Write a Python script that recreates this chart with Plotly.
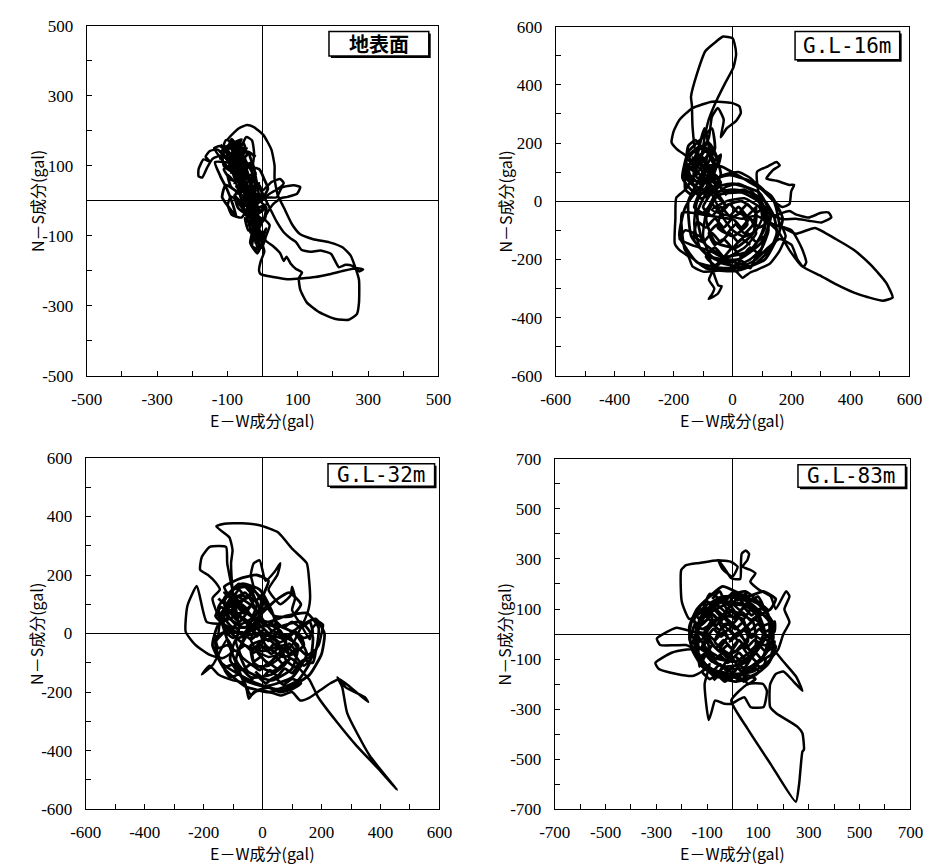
import plotly.graph_objects as go

W, H = 935, 868

# ---------------- data (gal): (E-W, N-S) orbit points ----------------
panel_titles = ["地表面", "G.L-16m", "G.L-32m", "G.L-83m"]
x_axis_title = "E－W成分(gal)"
y_axis_title = "N－S成分(gal)"

surface_ranges = [-500, 500]
gl16_ranges = [-600, 600]
gl32_ranges = [-600, 600]
gl83_ranges = [-700, 700]

surface_labels = [-500, -300, -100, 100, 300, 500]
gl16_labels = [-600, -400, -200, 0, 200, 400, 600]
gl32_labels = [-600, -400, -200, 0, 200, 400, 600]
gl83_labels = [-700, -500, -300, -100, 100, 300, 500, 700]

surface_outline = [
    (-40, 30), (-55, 75), (-75, 125), (-95, 160), (-88, 176), (-70, 152), (-55, 105), (-38, 55),
    (-22, 12), (-30, -28), (-48, 8), (-72, 88), (-100, 138), (-122, 156), (-138, 150), (-118, 120),
    (-88, 82), (-62, 42), (-46, 2), (-32, -48), (-20, -92), (-10, -122), (-26, -110), (-40, -62),
    (-56, -12), (-72, 40), (-96, 108), (-128, 146), (-150, 142), (-162, 126), (-150, 112),
    (-168, 118), (-182, 90), (-182, 70), (-172, 66), (-158, 94), (-142, 120), (-112, 130),
    (-90, 110), (-70, 70), (-50, 22), (-30, -10), (-16, -42), (-6, -72), (-20, -40), (-42, 20),
    (-62, 80), (-82, 122), (-110, 160), (-104, 173), (-80, 166), (-60, 130), (-46, 92), (-30, 42),
    (-10, 2), (10, -20), (0, -60), (-20, -30), (-46, 30), (-70, 100), (-62, 150), (-46, 182),
    (-30, 172), (-24, 132), (-30, 82), (-20, 42), (0, 30), (25, 53), (50, 62), (60, 50), (45, 35),
    (20, 20), (0, 5), (-30, -20), (-60, -10), (-90, 12), (-99, -12), (-88, -40), (-60, -48),
    (-45, -25), (-40, 0), (-20, 20), (10, 10), (40, 10), (55, 38), (89, 44), (107, 39), (98, 20),
    (71, 11), (52, 7), (30, -10), (10, -40), (-10, -80), (-20, -110), (-12, -140), (0, -130),
    (10, -100), (20, -70), (0, -50), (-15, -82), (-5, -112), (5, -145), (-5, -172), (-10, -200),
    (-5, -210), (30, -218), (70, -224), (110, -222), (150, -218), (190, -210), (230, -200),
    (270, -193), (286, -196), (275, -202), (255, -186), (236, -183), (217, -190), (205, -170),
    (195, -152), (165, -142), (135, -146), (110, -140), (95, -118), (80, -108), (60, -90),
    (40, -60), (20, -20), (-10, 40), (-40, 100), (-70, 150), (-99, 174), (-67, 207), (-45, 216),
    (-26, 211), (2, 188), (25, 146), (34, 100), (34, 62), (43, 16), (61, -21), (84, -68),
    (107, -96), (144, -110), (190, -119), (227, -133), (250, -156), (263, -189), (274, -226),
    (274, -291), (268, -324), (245, -340), (208, -338), (162, -319), (126, -291), (107, -254),
    (103, -221), (112, -205), (95, -195), (80, -180), (68, -160), (60, -172), (50, -150),
    (30, -130), (10, -115), (-5, -90), (-25, -50), (-45, 10), (-65, 60), (-85, 100), (-105, 140),
]
surface_core = [
    (-120, 160), (-100, 145), (-85, 170), (-70, 150), (-55, 165), (-45, 130), (-60, 120),
    (-75, 140), (-95, 115), (-115, 135), (-110, 100), (-90, 85), (-75, 110), (-55, 90),
    (-35, 105), (-20, 75), (-40, 60), (-60, 80), (-80, 55), (-100, 75), (-90, 40), (-70, 25),
    (-55, 50), (-35, 30), (-10, 45), (0, 10), (-25, -5), (-45, 20), (-65, 0), (-80, 15),
    (-70, -20), (-50, -35), (-30, -15), (-10, -35), (10, -20), (5, -55), (-15, -45), (-35, -65),
    (-50, -50), (-40, -85), (-20, -75), (0, -95), (10, -80), (-5, -115), (-25, -105), (-30, -130),
    (-10, -140), (-15, -100), (-35, -60), (-20, -20), (-45, -10), (-30, 40), (-60, 30), (-45, 80),
    (-75, 70), (-60, 120), (-90, 110), (-75, 155), (-105, 150), (-120, 140), (-70, 170),
    (-100, 110), (-50, 140), (-90, 80), (-30, 110), (-80, 50), (-20, 80), (-70, 20), (-10, 50),
    (-60, -10), (0, 20), (-50, -40), (10, -10), (-40, -70), (5, -50), (-30, -100), (0, -90),
    (-20, -120), (-10, -100), (-45, -50), (-5, -30), (-60, 0), (-15, 10), (-75, 40), (-25, 60),
    (-85, 80), (-35, 100), (-100, 120), (-45, 150), (-110, 150), (-60, 175), (-85, 130),
    (-40, 70), (-70, 60), (-30, 20), (-55, -20), (-20, -60), (-35, -90), (-10, -60), (-40, -20),
    (-20, 30), (-65, 30), (-45, 90), (-95, 100), (-70, 140), (-120, 120), (-90, 160), (-50, 120),
    (-75, 75), (-30, 55), (-50, 5), (-10, -20), (-30, -60), (0, -110), (-15, -150), (-35, -120),
    (-25, -70), (-50, -30), (-80, 10), (-60, 50), (-90, 60), (-110, 90), (-80, 100), (-60, 70),
    (-40, 40), (-15, -15), (-105, 45), (-115, 10), (-95, -20), (-75, -45), (-85, -10),
    (-100, 30), (-120, 70), (-135, 110), (-10, 90), (5, 60), (15, 35), (-5, 0), (-25, 95),
    (-40, 140), (-20, 125),
]

gl16_outline = [
    (-20, 20), (-60, 70), (-100, 120), (-125, 165), (-136, 260), (-138, 330), (-141, 359),
    (-120, 440), (-92, 516), (-60, 545), (-32, 566), (0, 560), (7, 540), (12, 504), (3, 460),
    (-26, 404), (-59, 336), (-81, 280), (-98, 200), (-108, 120), (-88, 60), (-58, 0),
    (-30, -60), (0, -100), (40, -122), (80, -100), (100, -58), (90, 0), (60, 40), (20, 60),
    (-20, 50), (-60, 20), (-90, -40), (-100, -120), (-80, -180), (-40, -212), (10, -222),
    (60, -200), (100, -160), (122, -100), (110, -40), (80, 10), (40, 40), (-10, 30),
    (-60, 60), (-110, 110), (-150, 150), (-190, 180), (-207, 202), (-200, 240), (-180, 280),
    (-136, 320), (-70, 342), (-4, 338), (23, 326), (28, 303), (12, 276), (-20, 250),
    (-40, 220), (-30, 280), (-50, 320), (-70, 290), (-80, 220), (-110, 150), (-130, 90),
    (-160, 40), (-191, 12), (-194, -60), (-196, -146), (-180, -168), (-150, -190),
    (-136, -224), (-100, -242), (-60, -240), (-20, -232), (7, -236), (34, -263), (60, -245),
    (83, -236), (127, -214), (160, -170), (180, -120), (171, -92), (215, -112), (280, -92),
    (350, -130), (412, -168), (470, -220), (521, -280), (543, -331), (510, -342), (460, -330),
    (412, -314), (350, -285), (302, -258), (236, -224), (193, -168), (160, -112), (130, -80),
    (100, -60), (140, -50), (193, -34), (214, -45), (258, -56), (300, -40), (326, -39),
    (335, -56), (302, -73), (258, -67), (214, -60), (170, -62), (120, -40), (90, 20),
    (83, 101), (120, 120), (149, 135), (160, 123), (137, 107), (115, 78), (150, 70),
    (193, 56), (209, 56), (199, 34), (193, -10), (170, -20), (140, 0), (100, 40), (60, 80),
    (20, 100), (-30, 90), (-80, 60), (-120, 0), (-130, -80), (-110, -160), (-60, -200),
    (0, -210), (50, -180), (90, -130), (110, -70), (90, -20), (40, 10), (-20, 0), (-70, -30),
    (30, -60), (80, -50), (140, -80), (200, -100), (236, -164), (250, -210), (240, -226),
    (220, -200), (200, -150), (160, -130), (120, -160), (80, -200), (40, -220), (-20, -200),
    (-80, -170), (-140, -150), (-180, -130), (-160, -100), (-100, -130), (-60, -260),
    (-48, -290), (-37, -292), (-50, -318), (-81, -336), (-70, -320), (-62, -300), (-80, -270),
    (-60, -230), (-10, -190), (40, -160), (80, -110), (60, -60), (20, -40),
]
gl16_core = [
    (-160, 160), (-140, 130), (-120, 165), (-100, 135), (-80, 165), (-60, 140), (-40, 160),
    (-50, 120), (-75, 105), (-95, 125), (-120, 100), (-145, 120), (-165, 95), (-150, 70),
    (-125, 55), (-105, 80), (-85, 60), (-60, 85), (-40, 65), (-55, 40), (-80, 25), (-110, 45),
    (-135, 20), (-160, 40), (-150, 190), (-125, 210), (-105, 180), (-85, 205), (-70, 180),
    (-90, 150), (-115, 130), (-135, 150), (-120, 80), (-95, 95), (-70, 120), (-130, -20),
    (-100, -40), (-70, -10), (-40, -40), (-10, -10), (20, -40), (50, -10), (80, -40), (110, -20),
    (120, -70), (90, -90), (60, -60), (30, -90), (0, -60), (-30, -90), (-60, -60), (-90, -90),
    (-120, -70), (-130, -120), (-100, -140), (-70, -110), (-40, -140), (-10, -110), (20, -140),
    (50, -110), (80, -140), (110, -120), (90, -180), (60, -160), (30, -190), (0, -160),
    (-30, -190), (-60, -160), (-90, -190), (-60, -220), (-30, -200), (0, -225), (30, -205),
    (60, -230), (80, -190), (130, -160), (150, -110), (140, -50), (110, 0), (60, 30), (0, 40),
    (-60, 30), (-110, 10), (-150, 120), (-90, 170), (-60, 110), (-110, 60), (-150, 100),
    (-100, 150), (-70, 80), (-130, 70), (-120, 170), (-80, 200), (-50, 140), (-90, 40),
    (-140, 60), (-160, 130), (-110, 190), (-60, 160), (-40, 90), (-80, 30), (-130, 30),
    (-170, 80), (-150, 170), (-100, 220), (-70, 250), (-60, 180), (-100, 100), (-150, 0),
    (-140, -120), (-80, -190), (20, -200), (100, -140), (130, -50), (90, 30), (0, 60),
    (-80, 40), (-120, -40), (-100, -140), (-30, -190), (60, -170), (110, -90), (100, -10),
    (30, 30), (-50, 20), (-90, -60), (-60, -140), (10, -160), (70, -110), (80, -40), (30, 0),
    (-30, -20), (-50, -90), (0, -120), (50, -80), (30, -40), (-10, -60), (-170, -40),
    (-160, -170), (-90, -230), (10, -240), (110, -200), (160, -100), (140, 0), (80, 60),
    (-10, 90), (-100, 60), (-160, -20), (-180, -120), (-120, -210), (-30, -230), (70, -220),
    (140, -150), (170, -60), (130, 20), (50, 70), (-40, 120), (-120, 130), (-95, 250),
    (-80, 180), (-100, 90), (-60, 40), (-20, -20), (-150, 150), (-130, 175), (-110, 150),
    (-90, 180), (-70, 155), (-60, 125), (-85, 110), (-110, 130), (-135, 105), (-155, 130),
    (-140, 80), (-115, 95), (-90, 70), (-65, 95), (-45, 75), (-100, -20), (-70, -50),
    (-40, -20), (-10, -50), (20, -20), (50, -50), (80, -20), (70, -80), (40, -110), (10, -80),
    (-20, -110), (-50, -80), (-80, -110), (-60, -150), (-30, -130), (0, -160), (30, -130),
    (60, -150),
]

gl32_outline = [
    (-20, 0), (-60, 40), (-100, 80), (-110, 140), (-80, 170), (-40, 150), (-20, 100),
    (-40, 50), (-80, 30), (-120, 60), (-130, 110), (-100, 150), (-60, 160), (-30, 120),
    (-50, 80), (-90, 70), (-107, 240), (-102, 285), (-113, 329), (-157, 366), (-130, 375),
    (-69, 377), (-10, 370), (52, 346), (100, 290), (150, 240), (158, 180), (161, 117),
    (156, 84), (140, 40), (120, 0), (100, -40), (60, -70), (20, -80), (-20, -60), (-40, -20),
    (-20, 20), (20, 30), (60, 10), (80, -30), (60, -80), (20, -110), (-30, -110), (-70, -80),
    (-90, -30), (-80, 20), (-120, 240), (-124, 296), (-179, 296), (-206, 262), (-212, 218),
    (-185, 200), (-160, 175), (-145, 150), (-170, 120), (-150, 60), (-120, 20), (-80, 0),
    (-130, 30), (-190, 40), (-223, 162), (-255, 95), (-261, 6), (-228, -39), (-179, -73),
    (-135, -84), (-100, -60), (-120, -20), (-168, -106), (-206, -140), (-180, -110),
    (-150, -140), (-100, -160), (-60, -170), (-47, -223), (-30, -200), (-3, -195),
    (40, -205), (62, -212), (100, -200), (128, -229), (161, -218), (194, -195), (230, -170),
    (260, -156), (300, -185), (358, -234), (347, -218), (282, -184), (254, -150),
    (270, -183), (287, -272), (363, -417), (456, -534), (400, -470), (319, -384),
    (250, -300), (188, -217), (160, -160), (120, -110), (160, -80), (190, -40), (200, 0),
    (205, 30), (190, 40), (170, 20), (160, -20), (130, 30), (100, 80), (110, 120), (100, 160),
    (95, 130), (60, 100), (20, 150), (50, 200), (60, 240), (40, 210), (10, 180), (-10, 250),
    (-30, 240), (-40, 200), (-30, 150), (-60, 120), (-100, 100), (-140, 60), (-150, 0),
]
gl32_core = [
    (-150, 120), (-125, 100), (-100, 130), (-75, 105), (-50, 130), (-25, 110), (0, 135),
    (10, 90), (-15, 75), (-40, 95), (-65, 70), (-90, 95), (-115, 70), (-140, 90), (-160, 60),
    (-140, 40), (-115, 55), (-90, 30), (-65, 50), (-40, 25), (-15, 45), (15, 25), (40, 45),
    (70, 20), (100, 40), (130, 20), (160, 40), (170, 0), (140, -15), (110, 5), (80, -20),
    (50, 0), (20, -25), (-10, 0), (-40, -20), (-70, 5), (-100, -15), (-130, 5), (-160, -15),
    (-150, -50), (-120, -40), (-90, -60), (-60, -40), (-30, -65), (0, -45), (30, -70), (60, -45),
    (90, -70), (120, -50), (150, -75), (180, -55), (170, -100), (140, -90), (110, -115),
    (80, -95), (50, -120), (20, -100), (-10, -125), (-40, -105), (-70, -125), (-100, -105),
    (-130, -120), (-110, -150), (-80, -140), (-50, -165), (-20, -145), (10, -170), (40, -150),
    (70, -175), (100, -155), (130, -170), (100, -190), (60, -200), (20, -185), (-20, -195),
    (-40, -210), (-140, 60), (-80, 130), (-20, 110), (-10, 40), (-70, 0), (-130, 20), (-150, 90),
    (-100, 150), (-40, 160), (0, 100), (-30, 30), (-100, 20), (-140, 70), (-90, 110), (-50, 80),
    (-80, 40), (-120, 90), (-60, 140), (-20, 70), (-60, 20), (-110, 50), (-130, 120), (-70, 170),
    (-10, 150), (30, 80), (60, 0), (120, -40), (100, -120), (30, -160), (-50, -130), (-80, -60),
    (-40, 10), (40, 30), (110, 0), (150, -70), (100, -150), (10, -180), (-60, -160), (-110, -90),
    (-90, -20), (-20, 0), (70, -20), (90, -90), (30, -130), (-30, -100), (-40, -40), (20, -20),
    (60, -60), (20, -100), (-20, -60), (0, -20), (50, 20), (130, 40), (170, -10), (160, -100),
    (120, -160), (50, -190), (-20, -170), (-80, -140), (-140, -100), (-160, -30), (-120, 10),
    (-60, -40), (0, -60), (80, -40), (140, -110), (180, -60), (190, 20), (150, 70), (80, 60),
    (20, 40), (-40, 60), (-100, 110), (-130, 160), (-70, 190), (-20, 200), (20, 180), (0, 120),
    (40, 60), (100, 60), (130, 100), (90, 140), (40, 110), (-10, 60), (-60, -10), (-90, -90),
    (-40, -150), (30, -140), (80, -100), (50, -30), (-10, 10), (-80, 60), (-150, 30),
    (-170, -40), (-130, -120), (-60, -180), (20, -200), (100, -180), (160, -140), (200, -70),
    (210, 0), (180, 50), (120, 20), (60, -30), (0, 20), (-60, 80), (-110, 130), (-70, 90),
    (-30, 50), (10, -40), (70, -80), (120, -60), (90, -10), (30, 10), (-30, 90), (-90, 130),
    (-130, 140), (-105, 120), (-80, 150), (-55, 120), (-30, 145), (-5, 120), (-10, 80),
    (-35, 60), (-60, 85), (-85, 55), (-110, 80), (-135, 50), (-120, 0), (-95, 25), (-70, -5),
    (-45, 20), (-20, -10), (5, 15), (30, -15), (55, 10), (80, -15), (105, 10), (130, -10),
    (140, -40), (115, -60), (90, -35), (65, -60), (40, -35), (15, -60), (-10, -35), (-35, -60),
    (-30, -95), (-5, -80), (20, -105), (45, -80), (70, -105), (95, -85), (120, -105), (100, -135),
    (75, -120), (50, -145), (25, -125), (0, -150), (-25, -130),
]

gl83_outline = [
    (0, 0), (-60, 60), (-120, 100), (-150, 60), (-140, 0), (-100, -60), (-40, -100),
    (30, -110), (90, -70), (120, 0), (100, 70), (40, 120), (-30, 130), (-100, 100),
    (-170, 60), (-200, 130), (-202, 256), (-183, 275), (-132, 284), (-56, 295), (-5, 288),
    (20, 269), (0, 230), (-40, 260), (-56, 295), (-30, 260), (-5, 223), (30, 220),
    (33, 280), (36, 321), (52, 334), (65, 321), (58, 295), (39, 269), (71, 256), (90, 243),
    (70, 210), (100, 180), (150, 150), (170, 100), (211, 171), (224, 151), (204, 99),
    (224, 47), (200, 0), (180, -60), (140, -110), (80, -150), (0, -160), (-80, -140),
    (-140, -90), (-170, -20), (-160, 50), (-110, 110), (-40, 150), (30, 150), (100, 120),
    (150, 60), (160, -10), (130, -80), (70, -130), (-10, -140), (-80, -110), (-120, -50),
    (-100, 0), (-160, 10), (-221, 25), (-298, -18), (-285, -44), (-230, -45), (-183, -44),
    (-150, -60), (-180, -62), (-240, -75), (-304, -116), (-290, -140), (-220, -160),
    (-158, -168), (-120, -150), (-90, -120), (-110, -200), (-94, -344), (-81, -305),
    (-69, -266), (-31, -279), (-5, -279), (46, -253), (71, -292), (122, -292), (135, -227),
    (120, -200), (60, -200), (-5, -266), (60, -380), (150, -520), (249, -671), (262, -600),
    (275, -470), (281, -462), (275, -397), (256, -371), (173, -318), (148, -292), (148, -201),
    (170, -160), (200, -150), (240, -190), (275, -227), (250, -170), (200, -110), (160, -60),
]
gl83_core = [
    (-80, 140), (-50, 170), (-30, 130), (0, 165), (20, 135), (50, 160), (70, 130), (100, 150),
    (120, 110), (90, 90), (60, 125), (30, 95), (0, 120), (-30, 90), (-60, 115), (-90, 95),
    (-120, 120), (-140, 70), (-110, 50), (-80, 80), (-50, 55), (-20, 85), (10, 60), (40, 85),
    (70, 55), (110, 80), (150, 60), (160, 30), (130, 10), (100, 40), (70, 15), (40, 45),
    (10, 20), (-20, 40), (-50, 15), (-80, 40), (-120, 20), (-150, 35), (-160, -10), (-130, -30),
    (-100, 0), (-70, -25), (-40, 5), (-10, -20), (20, 5), (50, -25), (80, 0), (110, -20),
    (150, -5), (160, -50), (130, -70), (100, -40), (70, -65), (40, -40), (10, -70), (-20, -45),
    (-50, -70), (-80, -45), (-110, -70), (-140, -50), (-140, -100), (-110, -80), (-80, -110),
    (-50, -85), (-20, -115), (10, -90), (40, -115), (70, -90), (100, -115), (130, -95),
    (120, -140), (90, -120), (60, -150), (30, -125), (0, -155), (-30, -130), (-60, -155),
    (-90, -135), (-120, -150), (-90, -180), (-60, -165), (-30, -190), (0, -170), (30, -185),
    (60, -165), (90, -180), (60, -200), (40, -150), (70, -100), (40, -50), (70, 0), (40, 50),
    (70, 100), (40, 150), (10, 170), (-10, 120), (20, 70), (-10, 20), (20, -30), (-10, -80),
    (20, -130), (-20, -180), (-50, -150), (-20, -100), (-50, -60), (-20, -10), (-50, 40),
    (-20, 90), (-50, 140), (-90, 160), (-110, 110), (-80, 60), (-110, 10), (-80, -40),
    (-110, -90), (-130, -130), (-130, 60), (-40, 150), (60, 130), (150, 40), (120, -90),
    (20, -170), (-90, -140), (-150, -40), (-100, 90), (10, 160), (120, 110), (160, -20),
    (80, -140), (-30, -180), (-130, -100), (-140, 20), (-60, 130), (50, 170), (140, 80),
    (140, -60), (50, -160), (-70, -170), (-150, -70), (-120, 60), (-20, 120), (90, 100),
    (130, -10), (60, -110), (-40, -130), (-110, -60), (-90, 40), (0, 90), (80, 50), (90, -50),
    (10, -110), (-80, -90), (-100, 10), (-40, 70), (40, 60), (60, -30), (-10, -80), (-70, -30),
    (-30, 40), (30, 10), (-10, -30), (100, 70), (150, 100), (170, 140), (120, 170), (60, 150),
    (-40, 190), (-90, 150), (-140, 100), (-170, 30), (-160, -60), (-120, -130), (-60, -170),
    (10, -190), (80, -170), (140, -120), (170, -50), (120, -20), (80, -80), (20, 20),
    (-100, 130), (-70, 115), (-40, 140), (-10, 110), (20, 145), (50, 115), (80, 140), (110, 120),
    (140, 95), (105, 100), (75, 75), (45, 105), (15, 75), (-15, 100), (-45, 70), (-75, 100),
    (-105, 70), (-135, 95), (-155, 55), (-125, 35), (-95, 60), (-65, 35), (-35, 65), (-5, 35),
    (25, 65), (55, 30), (85, 60), (125, 35), (165, 50), (165, 10), (135, -10), (105, 20),
    (75, -15), (45, 15), (15, -10), (-15, 20), (-45, -10), (-75, 20), (-105, -15), (-140, 10),
    (-155, -35), (-125, -55), (-95, -25), (-65, -55), (-35, -25), (-5, -55), (25, -25),
    (55, -55), (85, -25), (125, -45), (165, -30), (150, -85), (115, -100), (85, -70),
    (55, -105), (25, -75), (-5, -100), (-35, -70), (-65, -100), (-95, -70), (-125, -95),
    (-110, -125), (-80, -150), (-50, -120), (-20, -150), (10, -125), (40, -155), (75, -130),
    (105, -150), (80, -165), (45, -190), (15, -160), (-15, -185), (-45, -160), (-75, -185),
]

outlines = [surface_outline, gl16_outline, gl32_outline, gl83_outline]
cores = [surface_core, gl16_core, gl32_core, gl83_core]
ranges = [surface_ranges, gl16_ranges, gl32_ranges, gl83_ranges]
labels = [surface_labels, gl16_labels, gl32_labels, gl83_labels]

# ---------------- layout geometry (pixels) ----------------
plot_boxes = [  # left, right, top, bottom
    (73, 436, 17, 375),
    (557, 922, 18, 375),
    (72, 437, 459, 818),
    (556, 923, 460, 818),
]
label_boxes = [  # left, right, top, bottom
    (323, 426, 23, 48),
    (804, 912, 23, 52),
    (322, 432, 465, 488),
    (807, 918, 466, 489),
]

TICK_FONT = dict(family="Liberation Serif, serif", size=17, color="black")
GOTHIC = "Noto Sans CJK JP"

fig = go.Figure()
layout = dict(
    width=W, height=H, margin=dict(l=0, r=0, t=0, b=0),
    paper_bgcolor="white", plot_bgcolor="white", showlegend=False,
)
shapes, annotations = [], []

for i, (outline, core, rng, labs, box, lbox, ttl) in enumerate(
        zip(outlines, cores, ranges, labels, plot_boxes, label_boxes, panel_titles)):
    n = "" if i == 0 else str(i + 1)
    l, r, t, b = box
    xdom = [l / W, r / W]
    ydom = [1 - b / H, 1 - t / H]
    tickvals = list(range(rng[0], rng[1] + 1, 100))
    ticktext = [str(v) if v in labs else "" for v in tickvals]
    common = dict(
        range=rng, tickvals=tickvals, ticktext=ticktext, ticks="inside", ticklen=5,
        tickcolor="black", tickwidth=1, showline=True, mirror=True, linecolor="black",
        linewidth=1, showgrid=False, zeroline=True, zerolinecolor="black", zerolinewidth=1,
        tickfont=TICK_FONT, fixedrange=True,
    )
    layout["xaxis" + n] = dict(domain=xdom, anchor="y" + n, ticklabelstandoff=8, **common)
    layout["yaxis" + n] = dict(domain=ydom, anchor="x" + n, ticklabelstandoff=9, **common)
    fig.add_trace(go.Scatter(
        x=[p[0] for p in outline], y=[p[1] for p in outline], mode="lines",
        line=dict(color="black", width=2.5, shape="spline", smoothing=0.5),
        xaxis="x" + n, yaxis="y" + n, hoverinfo="skip",
    ))
    fig.add_trace(go.Scatter(
        x=[p[0] for p in core], y=[p[1] for p in core], mode="lines",
        line=dict(color="black", width=2.8, shape="spline", smoothing=0.5),
        xaxis="x" + n, yaxis="y" + n, hoverinfo="skip",
    ))
    # axis titles
    annotations.append(dict(
        text=x_axis_title, xref="paper", yref="paper", x=(l + r) / 2 / W, y=1 - (b + 45) / H,
        showarrow=False, font=dict(family=GOTHIC, size=16, color="black"),
        xanchor="center", yanchor="middle"))
    annotations.append(dict(
        text=y_axis_title, xref="paper", yref="paper", x=(l - 52) / W, y=1 - (t + b) / 2 / H,
        showarrow=False, textangle=-90,
        font=dict(family=GOTHIC, size=16, color="black"),
        xanchor="center", yanchor="middle"))
    # label box with shadow
    bl, br, bt, bb = lbox
    shapes.append(dict(type="rect", xref="paper", yref="paper",
                       x0=(bl + 2) / W, x1=(br + 2) / W, y0=1 - (bb + 2) / H, y1=1 - (bt + 2) / H,
                       fillcolor="black", line=dict(width=0)))
    shapes.append(dict(type="rect", xref="paper", yref="paper",
                       x0=bl / W, x1=br / W, y0=1 - bb / H, y1=1 - bt / H,
                       fillcolor="white", line=dict(color="black", width=1.5)))
    if i == 0:
        tfont = dict(family=GOTHIC, size=20, color="black")
        ttext = "<b>" + ttl + "</b>"
    else:
        tfont = dict(family="DejaVu Sans Mono", size=21, color="black")
        ttext = ttl
    annotations.append(dict(
        text=ttext, xref="paper", yref="paper", x=(bl + br) / 2 / W, y=1 - (bt + bb) / 2 / H,
        showarrow=False, font=tfont, xanchor="center", yanchor="middle"))

layout["shapes"] = shapes
layout["annotations"] = annotations
fig.update_layout(**layout)
fig.write_html("out.html")
